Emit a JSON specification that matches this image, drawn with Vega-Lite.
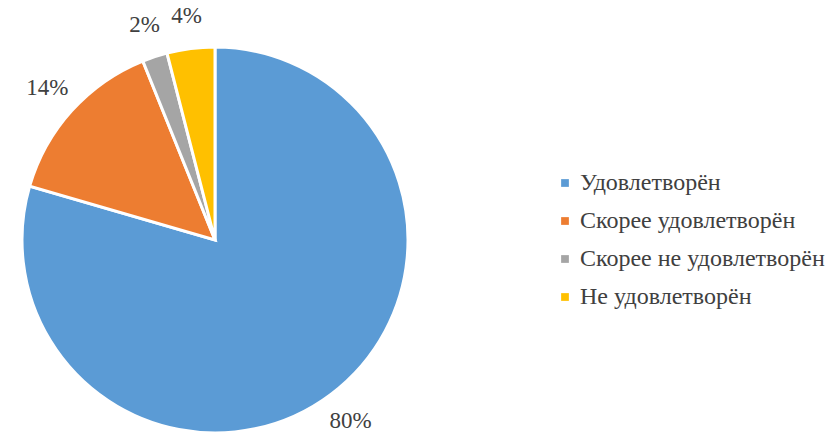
{
  "$schema": "https://vega.github.io/schema/vega-lite/v6.json",
  "width": 386,
  "height": 386,
  "autosize": {"type": "none"},
  "padding": {"left": 22, "top": 47, "right": 419, "bottom": 1},
  "background": "white",
  "data": {"values": [
    {"cat": "Удовлетворён", "order": 1, "value": 79.5, "label": "80%"},
    {"cat": "Скорее удовлетворён", "order": 2, "value": 14.4, "label": "14%"},
    {"cat": "Скорее не удовлетворён", "order": 3, "value": 2.1, "label": "2%"},
    {"cat": "Не удовлетворён", "order": 4, "value": 4.0, "label": "4%"}
  ]},
  "encoding": {
    "theta": {"field": "value", "type": "quantitative", "stack": true},
    "order": {"field": "order", "type": "quantitative"},
    "color": {
      "field": "cat", "type": "nominal",
      "sort": ["Удовлетворён", "Скорее удовлетворён", "Скорее не удовлетворён", "Не удовлетворён"],
      "scale": {"domain": ["Удовлетворён", "Скорее удовлетворён", "Скорее не удовлетворён", "Не удовлетворён"],
                "range": ["#5B9BD5", "#ED7D31", "#A5A5A5", "#FFC000"]},
      "legend": {
        "title": null,
        "orient": "none",
        "legendX": 531,
        "legendY": 124,
        "symbolType": "square",
        "symbolSize": 60,
        "symbolStrokeWidth": 0,
        "labelFont": "Liberation Serif",
        "labelFontSize": 24,
        "labelColor": "#404040",
        "labelOffset": 3,
        "rowPadding": 14,
        "labelLimit": 400
      }
    }
  },
  "layer": [
    {"mark": {"type": "arc", "outerRadius": 193, "stroke": "white", "strokeWidth": 3}},
    {"mark": {"type": "text", "radius": 226, "font": "Liberation Serif", "fontSize": 23, "fill": "#404040", "align": "center", "baseline": "middle"},
     "encoding": {"text": {"field": "label"}, "color": {"value": "#404040"}}}
  ],
  "config": {"view": {"stroke": null}}
}
